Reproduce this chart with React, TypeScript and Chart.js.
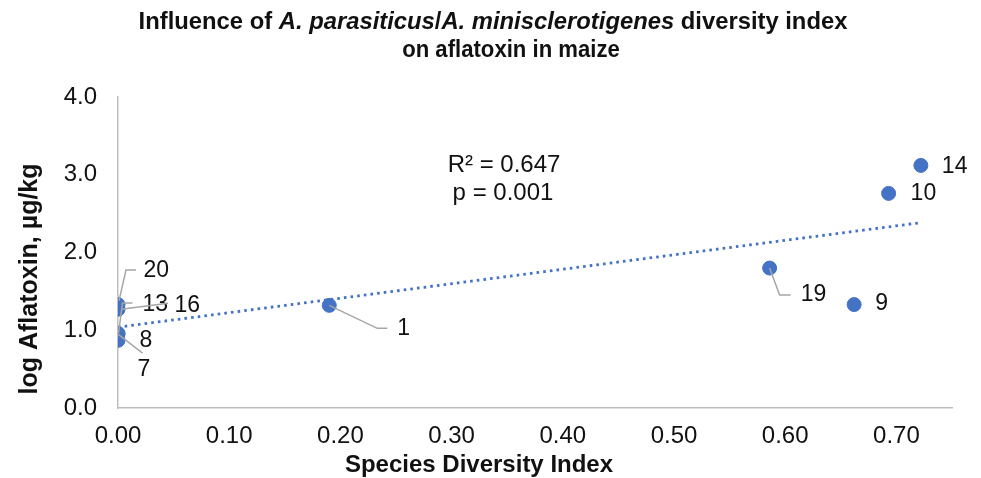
import React, { useEffect, useRef } from "react";
import { Chart, registerables } from "chart.js";

Chart.register(...registerables);

// ---- data ----
const pointLabels = ["1", "7", "8", "9", "10", "13", "14", "16", "19", "20"];
const diversityIndex = [0.19, 0.0, 0.0, 0.662, 0.693, 0.0, 0.722, 0.0, 0.586, 0.0];
const logAflatoxin = [1.32, 0.95, 0.87, 1.33, 2.76, 0.96, 3.12, 1.27, 1.8, 1.33];
const trendX = [0.0, 0.72];
const trendY = [1.04, 2.38];
const xTicksMax = 0.75;
const yTicksMax = 4;
const annotationLines = ["R² = 0.647", "p = 0.001"];

// ---- label layout (pixel offsets from each point) ----
const labelLayout: Record<string, { text: [number, number]; leader?: [number, number][] }> = {
  "1": { text: [68, 23], leader: [[0, 0], [48, 23], [58, 23]] },
  "7": { text: [19.5, 36], leader: [[0, 0], [24.5, 19]] },
  "8": { text: [21.5, 0] },
  "9": { text: [21, -1] },
  "10": { text: [22, 0] },
  "13": { text: [24.5, -28.4], leader: [[0.5, 0], [4.5, -30.4], [14.5, -30.4]] },
  "14": { text: [21, 1] },
  "16": { text: [56.5, -3.2], leader: [[3, 0], [50, -6]] },
  "19": { text: [31, 27], leader: [[0, 0], [10, 27], [21, 27]] },
  "20": { text: [25.5, -33.6], leader: [[1, -4], [8, -34.6], [18, -34.6]] },
};

const FONT = "'Liberation Sans', Arial, sans-serif";
const BLUE = "#4472C4";
const TEXT = "#111111";

const overlayPlugin = {
  id: "overlay",
  afterDatasetsDraw(chart: any) {
    const ctx = chart.ctx;
    const xs = chart.scales.x;
    const ys = chart.scales.y;
    ctx.save();
    ctx.font = `23px ${FONT}`;
    ctx.fillStyle = TEXT;
    ctx.textBaseline = "middle";
    ctx.textAlign = "left";
    pointLabels.forEach((lab, i) => {
      const px = xs.getPixelForValue(diversityIndex[i]);
      const py = ys.getPixelForValue(logAflatoxin[i]);
      const lay = labelLayout[lab];
      if (lay.leader) {
        ctx.strokeStyle = "#a6a6a6";
        ctx.lineWidth = 1.5;
        ctx.beginPath();
        lay.leader.forEach((p, k) => {
          if (k === 0) ctx.moveTo(px + p[0], py + p[1]);
          else ctx.lineTo(px + p[0], py + p[1]);
        });
        ctx.stroke();
      }
      ctx.fillText(lab, px + lay.text[0], py + lay.text[1]);
    });
    ctx.textAlign = "center";
    ctx.font = `24px ${FONT}`;
    ctx.fillText(annotationLines[0], 504, 165);
    ctx.fillText(annotationLines[1], 503, 193);
    ctx.restore();
  },
  afterDraw(chart: any) {
    const ctx = chart.ctx;
    ctx.save();
    ctx.fillStyle = TEXT;
    ctx.textBaseline = "middle";
    const segs: [string, boolean][] = [
      ["Influence of ", false],
      ["A. parasiticus", true],
      ["/", false],
      ["A. minisclerotigenes", true],
      [" diversity index", false],
    ];
    const fontFor = (it: boolean, size: number) => `${it ? "italic " : ""}bold ${size}px ${FONT}`;
    let total = 0;
    segs.forEach(([t, it]) => {
      ctx.font = fontFor(it, 23.8);
      total += ctx.measureText(t).width;
    });
    let x = 493 - total / 2;
    ctx.textAlign = "left";
    segs.forEach(([t, it]) => {
      ctx.font = fontFor(it, 23.8);
      ctx.fillText(t, x, 22);
      x += ctx.measureText(t).width;
    });
    ctx.save();
    ctx.textAlign = "center";
    ctx.font = fontFor(false, 23.8);
    ctx.translate(511, 50);
    ctx.scale(0.93, 1);
    ctx.fillText("on aflatoxin in maize", 0, 0);
    ctx.restore();
    ctx.textAlign = "center";
    ctx.font = `bold 24px ${FONT}`;
    ctx.fillText("Species Diversity Index", 479, 465);
    ctx.font = `bold 25px ${FONT}`;
    ctx.translate(30, 279);
    ctx.rotate(-Math.PI / 2);
    ctx.fillText("log Aflatoxin, µg/kg", 0, 0);
    ctx.restore();
  },
};

export default function App() {
  const ref = useRef<HTMLCanvasElement>(null);
  useEffect(() => {
    if (!ref.current) return;
    const points = diversityIndex.map((v, i) => ({ x: v, y: logAflatoxin[i] }));
    const trend = trendX.map((v, i) => ({ x: v, y: trendY[i] }));
    const chart = new Chart(ref.current, {
      type: "scatter",
      data: {
        datasets: [
          {
            label: "points",
            data: points,
            backgroundColor: BLUE,
            borderColor: BLUE,
            pointRadius: 7,
            pointHoverRadius: 7,
            order: 1,
          },
          {
            label: "trend",
            data: trend,
            showLine: true,
            borderColor: BLUE,
            borderWidth: 2.8,
            borderDash: [2.6, 4.1],
            pointRadius: 0,
            order: 2,
          } as any,
        ],
      },
      options: {
        responsive: false,
        animation: false,
        events: [],
        layout: { padding: { top: 97, right: 29, bottom: 0, left: 0 } },
        plugins: { legend: { display: false }, tooltip: { enabled: false }, title: { display: false } },
        scales: {
          x: {
            type: "linear",
            min: 0,
            max: xTicksMax,
            grid: { display: false, drawTicks: false },
            border: { display: true, color: "#bfbfbf", width: 1.5 },
            ticks: {
              stepSize: 0.1,
              includeBounds: false,
              padding: 14,
              color: TEXT,
              font: { family: FONT, size: 24 },
              callback: (v: any) => Number(v).toFixed(2),
            },
            afterFit: (s: any) => {
              s.height = 70;
            },
          },
          y: {
            type: "linear",
            min: 0,
            max: yTicksMax,
            grid: { display: false, drawTicks: false },
            border: { display: true, color: "#bfbfbf", width: 1.5 },
            ticks: {
              stepSize: 1,
              padding: 21,
              color: TEXT,
              font: { family: FONT, size: 24 },
              callback: (v: any) => Number(v).toFixed(1),
            },
            afterFit: (s: any) => {
              s.width = 118;
            },
          },
        },
      },
      plugins: [overlayPlugin],
    });
    return () => chart.destroy();
  }, []);
  return (
    <div style={{ position: "absolute", left: 0, top: 0, width: 981, height: 478, background: "#fff" }}>
      <canvas ref={ref} width={981} height={478} style={{ display: "block" }} />
    </div>
  );
}
